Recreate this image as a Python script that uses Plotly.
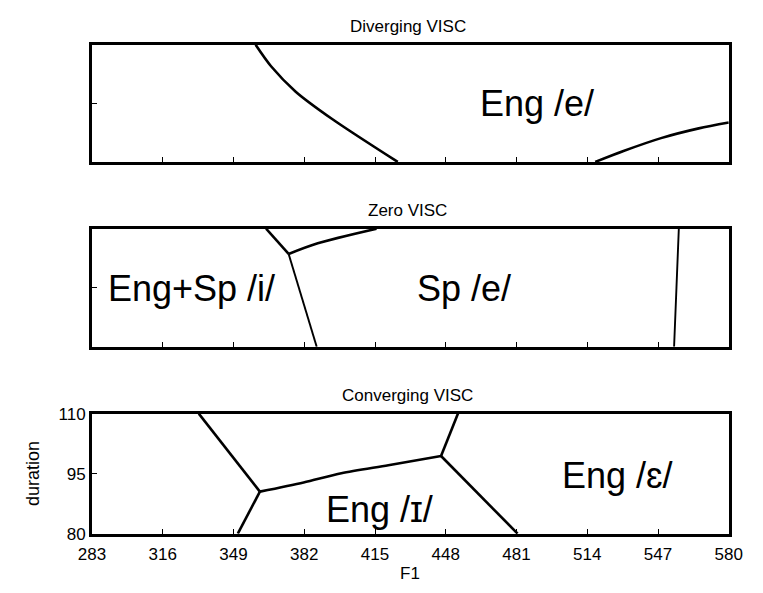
import plotly.graph_objects as go

# ---- data ----
x_ticks = [283, 316, 349, 382, 415, 448, 481, 514, 547, 580]
y_ticks = [80, 95, 110]
titles = ["Diverging VISC", "Zero VISC", "Converging VISC"]

# Diverging VISC boundaries
div_a_f1 = [359.3, 366.5, 378.0, 395.0, 425.6]
div_a_dur = [110, 104.5, 98.0, 91.0, 80]
div_b_f1 = [517.7, 530.9, 548.4, 566.0, 580]
div_b_dur = [80, 82.8, 86.1, 88.6, 90.1]

# Zero VISC boundaries
zero_a_f1 = [364.2, 374.7]
zero_a_dur = [110, 103.6]
zero_b_f1 = [374.7, 388.3, 415.7]
zero_b_dur = [103.6, 106.3, 110]
zero_c_f1 = [374.7, 387.8]
zero_c_dur = [103.6, 80]
zero_d_f1 = [556.7, 555.6, 554.5]
zero_d_dur = [110, 95, 80]

# Converging VISC boundaries
conv_a_f1 = [332.8, 361.3]
conv_a_dur = [110, 90.5]
conv_b_f1 = [361.3, 351.0]
conv_b_dur = [90.5, 80]
conv_c_f1 = [361.3, 381.7, 399.3, 421.2, 445.8]
conv_c_dur = [90.5, 92.8, 95.1, 97.1, 99.4]
conv_d_f1 = [445.8, 453.7]
conv_d_dur = [99.4, 110]
conv_e_f1 = [445.8, 481.5]
conv_e_dur = [99.4, 80]

# region labels: (panel, text, F1, duration)
region_labels = [
    (1, "Eng /e/", 490.5, 94.9),
    (2, "Eng+Sp /i/", 329.5, 94.8),
    (2, "Sp /e/", 456.7, 94.8),
    (3, "Eng /\u026a/", 416.9, 86.0),
    (3, "Eng /\u025b/", 528.1, 94.6),
]

# ---- figure ----
W, H = 763, 593
FONT = "Liberation Sans, Arial, sans-serif"
left_px, right_px = 81, 742
panels_px = [(37, 158), (227, 349), (418, 542)]

fig = go.Figure()

def seg(panel, xs, ys, width=2.6, shape="linear"):
    sfx = "" if panel == 1 else str(panel)
    fig.add_trace(go.Scatter(
        x=xs, y=ys, mode="lines",
        line=dict(color="black", width=width, shape=shape, smoothing=0.8),
        xaxis="x" + sfx, yaxis="y" + sfx, showlegend=False, hoverinfo="skip",
    ))

seg(1, div_a_f1, div_a_dur, shape="spline")
seg(1, div_b_f1, div_b_dur, shape="spline")
seg(2, zero_a_f1, zero_a_dur)
seg(2, zero_b_f1, zero_b_dur, shape="spline")
seg(2, zero_c_f1, zero_c_dur, width=1.9)
seg(2, zero_d_f1, zero_d_dur, width=1.9, shape="spline")
seg(3, conv_a_f1, conv_a_dur)
seg(3, conv_b_f1, conv_b_dur)
seg(3, conv_c_f1, conv_c_dur, shape="spline")
seg(3, conv_d_f1, conv_d_dur)
seg(3, conv_e_f1, conv_e_dur)

x_dom = [left_px / W, right_px / W]
layout = dict(
    width=W, height=H,
    margin=dict(l=0, r=0, t=0, b=0),
    paper_bgcolor="white", plot_bgcolor="white",
    font=dict(family=FONT, color="black"),
    showlegend=False,
)
for i, (top, bot) in enumerate(panels_px, start=1):
    sfx = "" if i == 1 else str(i)
    show_labels = (i == 3)
    layout["xaxis" + sfx] = dict(
        domain=x_dom, range=[x_ticks[0], x_ticks[-1]], anchor="y" + sfx,
        tickvals=x_ticks, showticklabels=show_labels,
        ticks="inside", ticklen=5, tickwidth=1.2, tickcolor="black",
        showline=True, linewidth=3, linecolor="black", mirror=True,
        showgrid=False, zeroline=False,
        tickfont=dict(size=17, family=FONT), ticklabelstandoff=3,
    )
    layout["yaxis" + sfx] = dict(
        domain=[1 - bot / H, 1 - top / H], range=[y_ticks[0], y_ticks[-1]], anchor="x" + sfx,
        tickvals=y_ticks if show_labels else [95], showticklabels=show_labels,
        ticks="inside", ticklen=5, tickwidth=1.2, tickcolor="black",
        showline=True, linewidth=3, linecolor="black", mirror=True,
        showgrid=False, zeroline=False,
        tickfont=dict(size=17, family=FONT),
    )

annotations = []
title_y_px = [18, 208, 399]
for t, ty in zip(titles, title_y_px):
    annotations.append(dict(
        text=t, x=409 / W, y=1 - ty / H, xref="paper", yref="paper",
        showarrow=False, font=dict(size=17, family=FONT), xanchor="center", yanchor="middle",
    ))
# axis titles
annotations.append(dict(
    text="duration", x=19 / W, y=1 - 480 / H, xref="paper", yref="paper", textangle=-90,
    showarrow=False, font=dict(size=18, family=FONT), xanchor="center", yanchor="middle",
))
annotations.append(dict(
    text="F1", x=411 / W, y=1 - 583 / H, xref="paper", yref="paper",
    showarrow=False, font=dict(size=17, family=FONT), xanchor="center", yanchor="middle",
))
for panel, txt, fx, fy in region_labels:
    sfx = "" if panel == 1 else str(panel)
    annotations.append(dict(
        text=txt, x=fx, y=fy, xref="x" + sfx, yref="y" + sfx, showarrow=False,
        font=dict(size=36, family=FONT), xanchor="center", yanchor="middle",
    ))
layout["annotations"] = annotations

fig.update_layout(**layout)
fig.write_html("out.html")
